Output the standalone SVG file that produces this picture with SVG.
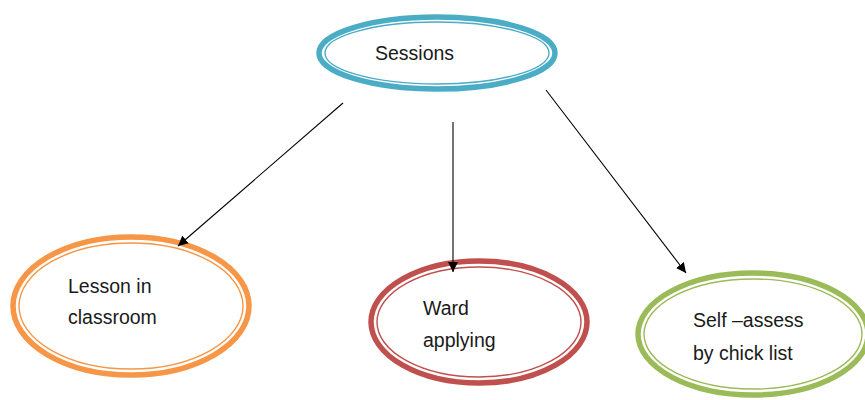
<svg xmlns="http://www.w3.org/2000/svg" width="865" height="400" viewBox="0 0 865 400">
<defs>
<marker id="arr" viewBox="0 0 10 10" refX="10" refY="5" markerWidth="10" markerHeight="10" markerUnits="userSpaceOnUse" orient="auto">
<path d="M0,0 L10,5 L0,10 z" fill="#000"/>
</marker>
</defs>
<style>
.o{fill:#fff;stroke-width:5.5}
.i{fill:none;stroke-width:1.4}
.t{font-family:"Liberation Sans",Arial,sans-serif;font-size:19.5px;fill:#1a1a1a}
.c{stroke:#000;stroke-width:1.1;fill:none;marker-end:url(#arr)}
</style>
<rect width="865" height="400" fill="#fff"/>
<g id="sessions">
<ellipse class="o" cx="437" cy="53" rx="118" ry="36" stroke="#4BACC6"/>
<ellipse class="i" cx="437" cy="53" rx="112" ry="31" stroke="#4BACC6"/>
<text class="t" x="375" y="60">Sessions</text>
</g>
<g id="lesson">
<ellipse class="o" cx="131" cy="306" rx="118" ry="69" stroke="#F79646"/>
<ellipse class="i" cx="131" cy="306" rx="112" ry="63" stroke="#F79646"/>
<text class="t" x="68" y="293">Lesson in</text>
<text class="t" x="68" y="324">classroom</text>
</g>
<g id="ward">
<ellipse class="o" cx="479" cy="322" rx="108" ry="61" stroke="#C0504D"/>
<ellipse class="i" cx="479" cy="322" rx="102" ry="55" stroke="#C0504D"/>
<text class="t" x="423" y="315">Ward</text>
<text class="t" x="423" y="347">applying</text>
</g>
<g id="self">
<ellipse class="o" cx="753" cy="334" rx="115" ry="61" stroke="#9BBB59"/>
<ellipse class="i" cx="753" cy="334" rx="109" ry="55" stroke="#9BBB59"/>
<text class="t" x="693" y="327">Self –assess</text>
<text class="t" x="693" y="360">by chick list</text>
</g>
<g id="connectors">
<line class="c" x1="343" y1="103" x2="178" y2="246"/>
<line class="c" x1="453" y1="122" x2="453" y2="272"/>
<line class="c" x1="546" y1="90" x2="686" y2="273"/>
</g>
</svg>
